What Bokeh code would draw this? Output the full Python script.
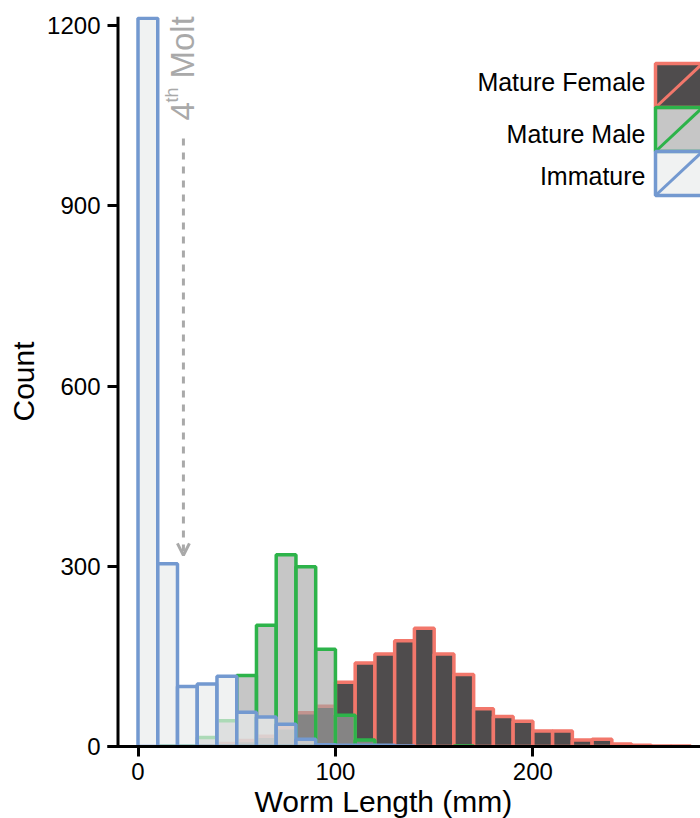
from math import pi
from bokeh.plotting import figure
from bokeh.models import (Range1d, Label, Arrow, OpenHead, FixedTicker,
                          ColumnDataSource, Span, Title)
from bokeh.core.properties import value
from bokeh.embed import file_html
from bokeh.resources import INLINE

# ---------------- data ----------------
bin_left = [0, 10, 20, 30, 40, 50, 60, 70, 80, 90, 100, 110, 120, 130,
            140, 150, 160, 170, 180, 190, 200, 210, 220, 230, 240, 250, 260, 270]
bin_right = [10, 20, 30, 40, 50, 60, 70, 80, 90, 100, 110, 120, 130, 140,
             150, 160, 170, 180, 190, 200, 210, 220, 230, 240, 250, 260, 270, 280]
female = [0, 0, 0, 1, 5, 10, 17, 31, 56, 67, 107, 139, 154, 176,
          197, 154, 120, 63, 50, 42, 26, 26, 11, 12, 4, 2, 1, 1]
male = [0, 1, 1, 15, 43, 118, 202, 319, 299, 162, 52, 11, 1, 0,
        0, 0, 1, 0, 0, 0, 0, 0, 0, 0, 0, 0, 0, 0]
immature = [1212, 304, 100, 104, 117, 57, 49, 37, 12, 3, 2, 2, 2, 1,
            0, 0, 0, 0, 0, 0, 0, 0, 0, 0, 0, 0, 0, 0]
x_ticks = [0, 100, 200]
y_ticks = [0, 300, 600, 900, 1200]
legend_labels = ["Mature Female", "Mature Male", "Immature"]
molt_length = 23      # 4th molt marker (mm)
molt_arrow_from = 1012
molt_arrow_to = 318

# ---------------- style ----------------
FONT = "Liberation Sans"
styles = {
    "female": dict(fill_color="#4f4c4d", fill_alpha=1.0, line_color="#f2776b"),
    "male": dict(fill_color="#a4a4a4", fill_alpha=0.63, line_color="#2db34a"),
    "immature": dict(fill_color="#e9ecec", fill_alpha=0.68, line_color="#7399d0"),
}
GRAY = "#a9a9a9"
SPINE_X = -10.13   # y-axis spine position (offset spine), in x-data units

W, H = 700, 818
p = figure(width=W, height=H, output_backend="svg", toolbar_location=None,
           x_range=Range1d(-15.45, 284.9), y_range=Range1d(0, 1215),
           min_border_left=107, min_border_right=0, min_border_top=16,
           min_border_bottom=72)
p.outline_line_color = None
p.xgrid.visible = False
p.ygrid.visible = False
p.background_fill_color = "white"

# pixel-space helper ranges (page pixels) for legend / annotation text
p.extra_x_ranges = {"px": Range1d(107, 700)}
p.extra_y_ranges = {"px": Range1d(746, 16)}


def series(vals, key):
    idx = [i for i, v in enumerate(vals) if v > 0]
    src = ColumnDataSource(dict(left=[bin_left[i] for i in idx],
                                right=[bin_right[i] for i in idx],
                                top=[vals[i] for i in idx],
                                bottom=[0] * len(idx)))
    p.quad(left="left", right="right", top="top", bottom="bottom", source=src,
           line_width=3.5, **styles[key])


series(female, "female")
series(male, "male")
series(immature, "immature")

# axes
xa = p.xaxis[0]
xa.ticker = FixedTicker(ticks=x_ticks)
xa.axis_line_width = 3
xa.major_tick_line_width = 3
xa.major_tick_out = 10
xa.major_tick_in = 0
xa.minor_tick_line_color = None
xa.major_label_standoff = 6
xa.major_label_text_font = FONT
xa.major_label_text_font_size = "24px"
xa.major_label_text_color = "black"

ya = p.yaxis[0]
ya.ticker = FixedTicker(ticks=y_ticks)
ya.axis_line_color = None
ya.major_tick_line_width = 3
ya.major_tick_out = 0
ya.major_tick_in = 10
ya.minor_tick_line_color = None
ya.major_label_standoff = 7
ya.major_label_text_font = FONT
ya.major_label_text_font_size = "24px"
ya.major_label_text_color = "black"
ya.axis_label = "Count"
ya.axis_label_text_font = FONT
ya.axis_label_text_font_size = "30px"
ya.axis_label_text_font_style = "normal"
ya.axis_label_text_color = "black"
ya.axis_label_standoff = 4

# y spine (offset from the frame edge)
p.add_layout(Span(location=SPINE_X, dimension="height", line_color="black",
                  line_width=3))

# x axis title
p.add_layout(Title(text="Worm Length (mm)", align="left", offset=147,
                   standoff=0, text_font=FONT, text_font_size="30px",
                   text_font_style="normal", text_color="black"), "below")

# legend (manual, patches with a diagonal)
leg_tops = [63, 107, 151]
leg_bots = [107, 151, 195]
leg_left, leg_right = 655, 702
for key, t, b in zip(["female", "male", "immature"], leg_tops, leg_bots):
    st = styles[key]
    p.quad(left=[leg_left], right=[leg_right], top=[t], bottom=[b],
           fill_color=st["fill_color"], fill_alpha=st["fill_alpha"],
           line_color=st["line_color"], line_width=3.5,
           x_range_name="px", y_range_name="px")
    p.segment(x0=[leg_left], y0=[b], x1=[leg_right], y1=[t],
              line_color=st["line_color"], line_width=3,
              x_range_name="px", y_range_name="px")
p.text(x=[645, 645, 645], y=[81, 133, 175], text=legend_labels,
       text_align="right", text_baseline="middle",
       text_font=value(FONT), text_font_size="25px", text_color="black",
       x_range_name="px", y_range_name="px")

# 4th molt annotation
p.add_layout(Arrow(end=OpenHead(size=12, line_width=3, line_color=GRAY),
                   x_start=molt_length, y_start=molt_arrow_from,
                   x_end=molt_length, y_end=molt_arrow_to,
                   line_color=GRAY, line_width=3, line_dash="7 7"))
for txt, x, y, fs in [("4", 182, 120, "33px"), ("th", 171, 102, "18px"),
                      ("Molt", 182, 78, "33px")]:
    p.add_layout(Label(x=x, y=y, text=txt, angle=pi / 2, text_align="left",
                       text_baseline="middle", text_font=FONT,
                       text_font_size=fs, text_color=GRAY,
                       x_range_name="px", y_range_name="px"))

open("out.html", "w").write(file_html(p, INLINE))
